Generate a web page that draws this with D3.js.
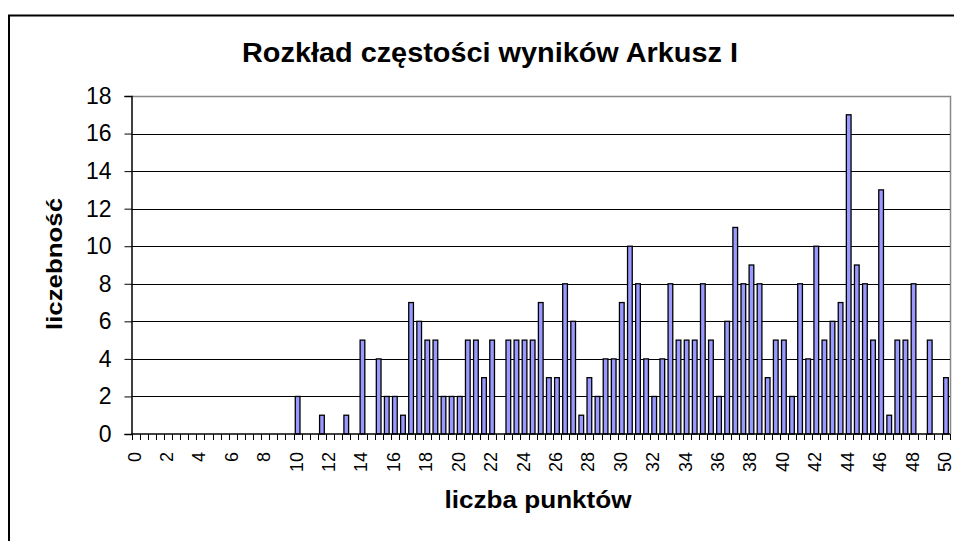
<!DOCTYPE html>
<html>
<head>
<meta charset="utf-8">
<script src="https://cdn.jsdelivr.net/npm/d3@7"></script>
<style>
  body { margin: 0; background: #fff; }
  text { font-family: "Liberation Sans", Arial, sans-serif; }
</style>
</head>
<body>
<div id="chart"></div>
<script>
var width = 954,
    height = 541;

// liczba punktów: 0, 0.5, 1, ... 50
var punkty = d3.range(0, 101).map(function(i) { return i / 2; });

// liczebność for each category
var liczebnosc = [
  0,0,0,0,0,0,0,0,0,0,        // 0 - 4.5
  0,0,0,0,0,0,0,0,0,0,        // 5 - 9.5
  2,0,0,1,0,0,1,0,5,0,        // 10 - 14.5
  4,2,2,1,7,6,5,5,2,2,        // 15 - 19.5
  2,5,5,3,5,0,5,5,5,5,        // 20 - 24.5
  7,3,3,8,6,1,3,2,4,4,        // 25 - 29.5
  7,10,8,4,2,4,8,5,5,5,       // 30 - 34.5
  8,5,2,6,11,8,9,8,3,5,       // 35 - 39.5
  5,2,8,4,10,5,6,7,17,9,      // 40 - 44.5
  8,5,13,1,5,5,8,0,5,0,       // 45 - 49.5
  3                           // 50
];

var yTicks = [0, 2, 4, 6, 8, 10, 12, 14, 16, 18];

var tytul = "Rozkład częstości wyników Arkusz I",
    osX = "liczba punktów",
    osY = "liczebność";

var data = punkty.map(function(p, i) { return {p: p, v: liczebnosc[i]}; });

var margin = {left: 131.5, right: 950, top: 96, bottom: 434};

var svg = d3.select("#chart").append("svg")
    .attr("width", width)
    .attr("height", height);

// outer chart frame
svg.append("rect")
    .attr("x", 9).attr("y", 15.5)
    .attr("width", 980).attr("height", 600)
    .attr("fill", "none")
    .attr("stroke", "#000")
    .attr("stroke-width", 2);

var x = d3.scaleBand()
    .domain(punkty)
    .range([margin.left, margin.right])
    .paddingInner(0.42)
    .paddingOuter(0.21);

var xOuter = d3.scaleBand()
    .domain(punkty)
    .range([margin.left, margin.right]);

var y = d3.scaleLinear()
    .domain([0, 18])
    .range([margin.bottom, margin.top]);

// plot area border (grey) top + right
svg.append("path")
    .attr("d", "M" + margin.left + "," + (margin.top + 0.5) + "H" + (margin.right + 0.5) + "V" + margin.bottom)
    .attr("fill", "none")
    .attr("stroke", "#888")
    .attr("stroke-width", 1.5);

// gridlines
svg.append("g")
  .selectAll("line")
  .data(yTicks.filter(function(d) { return d > 0 && d < 18; }))
  .enter().append("line")
    .attr("x1", margin.left)
    .attr("x2", margin.right)
    .attr("y1", function(d) { return Math.round(y(d)) + 0.5; })
    .attr("y2", function(d) { return Math.round(y(d)) + 0.5; })
    .attr("stroke", "#000")
    .attr("stroke-width", 1);

// bars
svg.append("g")
  .selectAll("rect")
  .data(data.filter(function(d) { return d.v > 0; }))
  .enter().append("rect")
    .attr("x", function(d) { return x(d.p); })
    .attr("y", function(d) { return y(d.v); })
    .attr("width", x.bandwidth())
    .attr("height", function(d) { return y(0) - y(d.v); })
    .attr("fill", "#9999ff")
    .attr("stroke", "#000")
    .attr("stroke-width", 1.3);

// y axis
var yAxis = d3.axisLeft(y)
    .tickValues(yTicks)
    .tickSize(7)
    .tickPadding(13);

var gy = svg.append("g")
    .attr("transform", "translate(" + margin.left + ",0)")
    .call(yAxis);
gy.select(".domain").attr("stroke", "#000").attr("stroke-width", 1.5);
gy.selectAll(".tick line").attr("stroke", "#000");
gy.selectAll("text")
    .attr("font-size", 23)
    .attr("fill", "#000");

// x axis line
svg.append("line")
    .attr("x1", margin.left).attr("x2", margin.right)
    .attr("y1", margin.bottom).attr("y2", margin.bottom)
    .attr("stroke", "#000").attr("stroke-width", 1.5);

// x tick marks at category boundaries
var bounds = punkty.map(function(p) { return xOuter(p); }).concat([margin.right]);
svg.append("g")
  .selectAll("line")
  .data(bounds)
  .enter().append("line")
    .attr("x1", function(d) { return Math.round(d) + 0.5; })
    .attr("x2", function(d) { return Math.round(d) + 0.5; })
    .attr("y1", margin.bottom)
    .attr("y2", margin.bottom + 6)
    .attr("stroke", "#000");

// x labels every 2 points, rotated
svg.append("g")
  .selectAll("text")
  .data(punkty.filter(function(p) { return p % 2 === 0; }))
  .enter().append("text")
    .attr("transform", function(d) {
      return "translate(" + (xOuter(d) + xOuter.bandwidth() / 2 - 1) + "," + 452 + ") rotate(-90)";
    })
    .attr("text-anchor", "end")
    .attr("dominant-baseline", "central")
    .attr("font-size", 18)
    .text(function(d) { return d; });

// title
svg.append("text")
    .attr("x", 490)
    .attr("y", 62)
    .attr("text-anchor", "middle")
    .attr("font-size", 27)
    .attr("font-weight", "bold")
    .attr("textLength", 496)
    .attr("lengthAdjust", "spacingAndGlyphs")
    .text(tytul);

// x axis title
svg.append("text")
    .attr("x", 538)
    .attr("y", 508)
    .attr("text-anchor", "middle")
    .attr("font-size", 23)
    .attr("font-weight", "bold")
    .attr("textLength", 187)
    .attr("lengthAdjust", "spacingAndGlyphs")
    .text(osX);

// y axis title
svg.append("text")
    .attr("transform", "translate(62,264) rotate(-90)")
    .attr("text-anchor", "middle")
    .attr("font-size", 22)
    .attr("font-weight", "bold")
    .attr("textLength", 132)
    .attr("lengthAdjust", "spacingAndGlyphs")
    .text(osY);
</script>
</body>
</html>
